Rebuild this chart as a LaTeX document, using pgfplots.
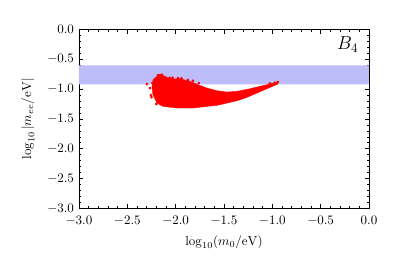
\documentclass[border=0pt]{standalone}
\usepackage{pgfplots}
\pgfplotsset{compat=1.18}
\definecolor{bandblue}{rgb}{0.74,0.74,0.98}
\begin{document}
\begin{tikzpicture}
\useasboundingbox (-60.8pt,-50.4pt) rectangle (247.2pt,160.5pt);
\begin{axis}[
  at={(0pt,0pt)}, anchor=south west,
  scale only axis, width=223.3pt, height=137.8pt,
  xmin=-3, xmax=0, ymin=-3, ymax=0,
  xtick={-3,-2.5,...,0}, ytick={-3,-2.5,...,0},
  minor tick num=4,
  tick align=inside,
  major tick length=3.1pt, minor tick length=1.7pt,
  /pgf/number format/fixed, /pgf/number format/fixed zerofill, /pgf/number format/precision=1,
  ticklabel style={font=\normalsize},
  label style={font=\normalsize},
  xticklabel style={yshift=-2.3pt},
  yticklabel style={xshift=-0.3pt},
  xlabel={$\log_{10}(m_0/\mathrm{eV})$},
  ylabel={$\log_{10}|m_{ee}/\mathrm{eV}|$},
  xlabel style={yshift=-1pt},
  ylabel style={yshift=3pt},
  axis line style={line width=0.65pt},
  every tick/.style={black, line width=0.5pt},
  clip=true,
]
\addplot[draw=none, fill=bandblue] coordinates {(-3,-0.92) (0,-0.92) (0,-0.6) (-3,-0.6)} \closedcycle;
\addplot[draw=red, fill=red, line width=0.3pt] coordinates {
(-2.235,-0.869) (-2.203,-0.797) (-2.162,-0.747) (-2.131,-0.772) (-2.090,-0.802)
(-2.028,-0.826) (-1.955,-0.826) (-1.852,-0.869) (-1.769,-0.926) (-1.676,-0.982)
(-1.572,-1.027) (-1.469,-1.049) (-1.366,-1.037) (-1.231,-0.993) (-1.128,-0.953)
(-1.024,-0.914) (-0.941,-0.881)
(-0.941,-0.914) (-1.055,-0.993) (-1.159,-1.065) (-1.262,-1.138) (-1.366,-1.195)
(-1.469,-1.233) (-1.572,-1.272) (-1.676,-1.289) (-1.821,-1.317) (-1.986,-1.317)
(-2.131,-1.289) (-2.193,-1.233) (-2.235,-1.094) (-2.245,-0.948) (-2.235,-0.869)
};
\addplot[only marks, mark=*, mark size=0.85pt, red] coordinates {
(-2.297,-0.916) (-2.183,-0.765) (-2.142,-0.760) (-2.111,-0.800) (-2.059,-0.810)
(-1.976,-0.815) (-1.873,-0.845) (-1.821,-0.860) (-2.266,-0.983) (-2.250,-1.134)
(-2.225,-0.850) (-2.170,-0.790) (-2.030,-0.810) (-1.940,-0.820) (-1.760,-0.900)
(-2.255,-1.100) (-2.200,-1.250) (-1.025,-0.905) (-0.973,-0.891) (-0.942,-0.880)
(-2.240,-0.900) (-2.210,-0.830)
};
\node at (axis cs:-0.22,-0.26) {\Large $B_4$};
\end{axis}
\end{tikzpicture}
\end{document}
